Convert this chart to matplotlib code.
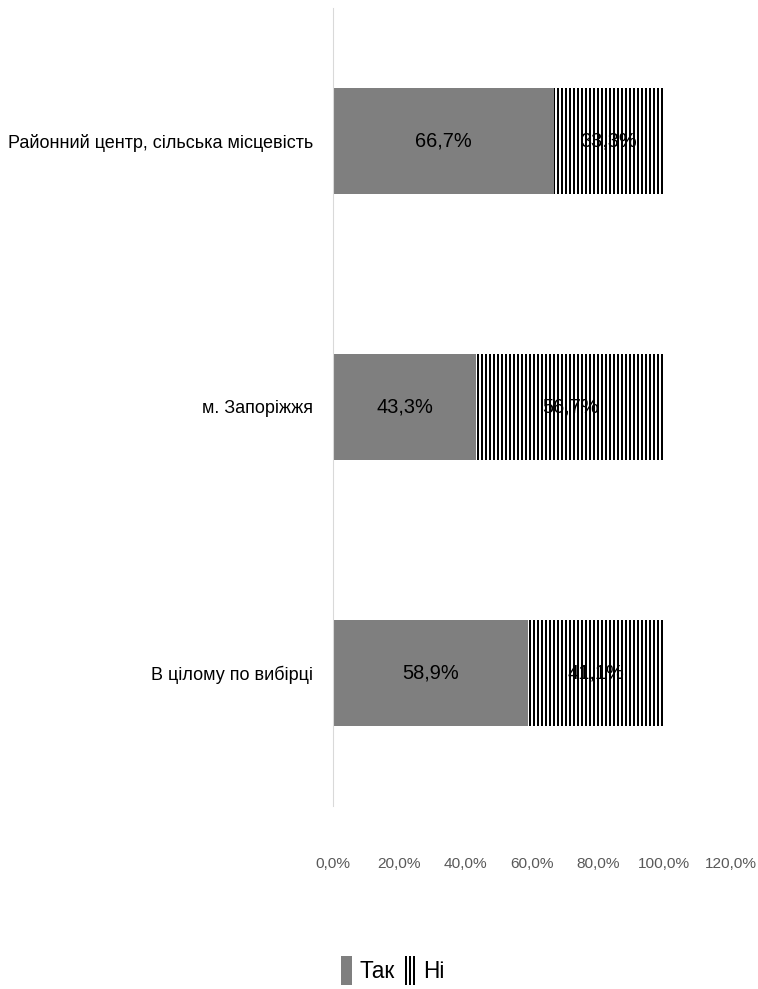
import matplotlib
matplotlib.use("Agg")
import matplotlib.pyplot as plt
from matplotlib.ticker import FuncFormatter

plt.rcParams['font.family'] = ['Liberation Sans Narrow', 'Liberation Sans', 'DejaVu Sans']
plt.rcParams['hatch.linewidth'] = 1.5

# data
categories = ["Районний центр, сільська місцевість", "м. Запоріжжя", "В цілому по вибірці"]
tak = [66.7, 43.3, 58.9]
ni = [33.3, 56.7, 41.1]
series_names = ["Так", "Ні"]
xticks = [0, 20, 40, 60, 80, 100, 120]

# 96 dpi so the vertical hatch falls on a 4 px grid
DPI = 96
fig = plt.figure(figsize=(758 / DPI, 989 / DPI), dpi=DPI)
ax = fig.add_axes([0.439, 0.185, 0.525, 0.807])

y = range(len(categories))
b1 = ax.barh(y, tak, height=0.4, color="#7f7f7f", label=series_names[0])
b2 = ax.barh(y, ni, left=tak, height=0.4, color="white", edgecolor="black",
             linewidth=0, hatch="||||", label=series_names[1])

for bars, vals, lefts in [(b1, tak, [0] * 3), (b2, ni, tak)]:
    for rect, v, l in zip(bars, vals, lefts):
        ax.text(l + v / 2, rect.get_y() + rect.get_height() / 2,
                f"{v:.1f}%".replace(".", ","), ha="center", va="center",
                fontsize=15, color="black")

ax.set_xlim(0, 120)
ax.set_ylim(2.5, -0.5)
ax.set_xticks(xticks)
ax.xaxis.set_major_formatter(FuncFormatter(lambda v, p: f"{v:.1f}%".replace(".", ",")))
ax.set_yticks(list(y))
ax.set_yticklabels(categories, fontsize=13.5)
ax.tick_params(axis="x", length=0, pad=38, labelsize=11.5, labelcolor="#595959")
ax.tick_params(axis="y", length=0, pad=15)

for s in ["top", "right", "bottom"]:
    ax.spines[s].set_visible(False)
ax.spines["left"].set_color("#d9d9d9")

fig.legend(handles=[b1, b2], labels=series_names, loc="center",
           bbox_to_anchor=(0.518, 0.019), ncol=2, frameon=False, fontsize=17,
           handlelength=0.5, handleheight=1.6, handletextpad=0.3, columnspacing=0.45)

fig.savefig("out.png", dpi=DPI)
